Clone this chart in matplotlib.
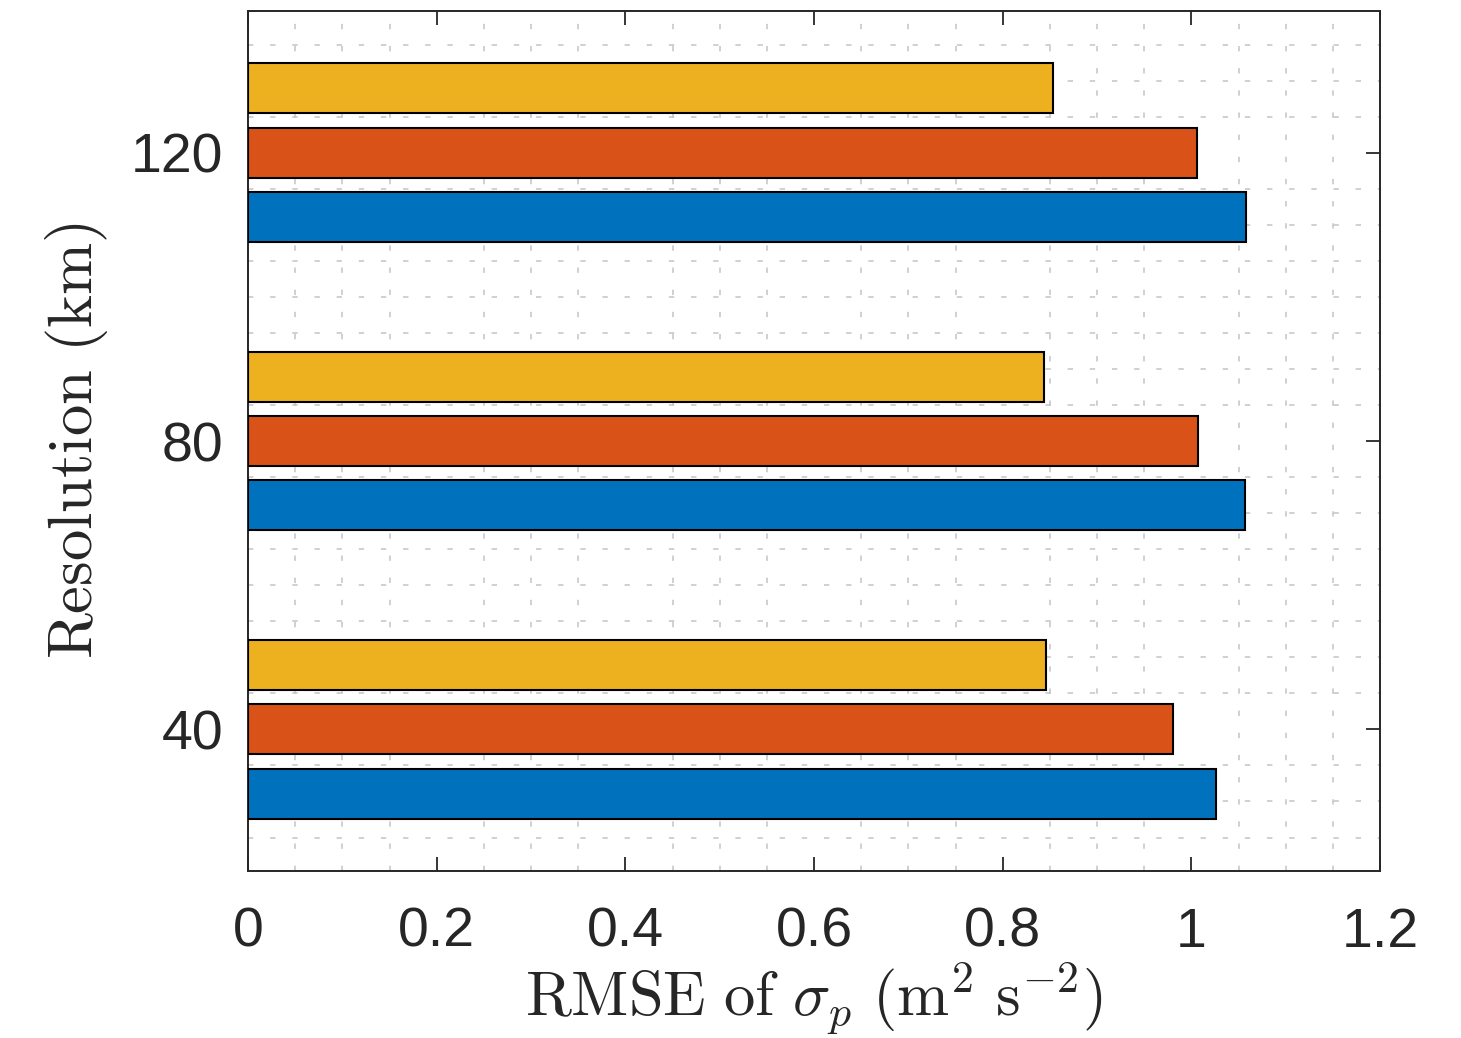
import numpy as np
import matplotlib
matplotlib.use('Agg')
import matplotlib.pyplot as plt
from matplotlib.ticker import MultipleLocator

# resolutions (km) and RMSE values per series
resolutions = [40, 80, 120]
rmse_blue = [1.026, 1.057, 1.058]
rmse_orange = [0.981, 1.007, 1.006]
rmse_yellow = [0.846, 0.844, 0.853]
x_ticks = [0, 0.2, 0.4, 0.6, 0.8, 1.0, 1.2]
x_tick_labels = ['0', '0.2', '0.4', '0.6', '0.8', '1', '1.2']

plt.rcParams['mathtext.fontset'] = 'cm'
plt.rcParams['font.family'] = ['Liberation Sans', 'DejaVu Sans']

fig = plt.figure(figsize=(14.61, 10.38), dpi=100)
ax = fig.add_axes([248/1461, 1 - 870.7/1038, (1380-248)/1461, (870.7-10.7)/1038])

res = np.array(resolutions)
offset = 8.93
height = 6.95
series = [(rmse_blue, -offset, '#0072BD'),
          (rmse_orange, 0, '#D95319'),
          (rmse_yellow, offset, '#EDB120')]
for vals, off, col in series:
    ax.barh(res + off, vals, height=height, color=col,
            edgecolor='black', linewidth=1.5, zorder=3)

ax.set_xlim(0, 1.2)
ax.set_ylim(20.4, 139.7)
ax.set_xticks(x_ticks)
ax.set_xticklabels(x_tick_labels)
ax.set_yticks(resolutions)
ax.xaxis.set_minor_locator(MultipleLocator(0.05))
ax.yaxis.set_minor_locator(MultipleLocator(5))

# MATLAB-like dotted minor grid
ax.set_axisbelow(True)
ax.grid(which='minor', color='#c4c4c4', linestyle=(0, (3.5, 11)),
        linewidth=1.1)
ax.grid(which='major', visible=False)

ax.tick_params(which='major', direction='in', length=10, width=1.3,
               top=True, right=True, labelsize=40, colors='#262626')
ax.tick_params(axis='x', which='major', pad=26)
ax.tick_params(axis='y', which='major', pad=18)
ax.tick_params(which='minor', length=0)

for sp in ax.spines.values():
    sp.set_color('#262626')
    sp.set_linewidth(1.4)

ax.set_xlabel(r'$\mathrm{RMSE\ of\ }\sigma_p\ (\mathrm{m}^2\ \mathrm{s}^{-2})$',
              fontsize=45, color='#262626', labelpad=1)
ax.set_ylabel(r'$\mathrm{Resolution\ (km)}$', fontsize=45,
              color='#262626', labelpad=15)

fig.savefig('out.png', dpi=100)
